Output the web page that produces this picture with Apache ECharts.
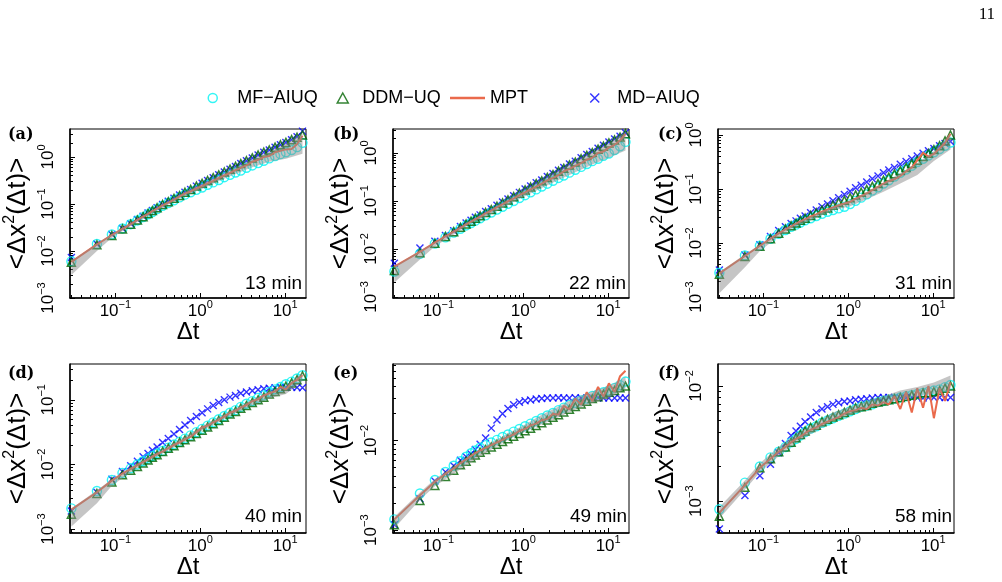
<!DOCTYPE html>
<html>
<head>
<meta charset="utf-8">
<title>MSD comparison</title>
<script src="https://cdn.jsdelivr.net/npm/echarts@6/dist/echarts.min.js"></script>
<style>
  html, body { margin: 0; padding: 0; background: #fff; }
  #chart { width: 1002px; height: 582px; }
</style>
</head>
<body>
<div id="chart"></div>
<script>
// lag times (s) of the estimators
const lagTimes = [0.0303, 0.0606, 0.0909, 0.1212, 0.1515, 0.1818, 0.2121, 0.2424, 0.2727, 0.31,
  0.36, 0.42, 0.49, 0.57, 0.66, 0.77, 0.9, 1.05, 1.22, 1.42, 1.65, 1.92, 2.24, 2.6, 3.0, 3.5,
  4.1, 4.8, 5.6, 6.5, 7.6, 8.8, 10.2, 11.9, 13.8, 16.0];
// lag times where the grey band edges were read
const bandLags = [0.0303, 0.0606, 0.0909, 0.1515, 0.2424, 0.42, 0.66, 1.05, 1.65, 2.6, 4.1, 6.5, 10.2, 16.0];

const panelTags = ['(a)', '(b)', '(c)', '(d)', '(e)', '(f)'];
const panelAges = ['13 min', '22 min', '31 min', '40 min', '49 min', '58 min'];
const decadeTicks = [0.001, 0.01, 0.1, 1, 10];

// (a) 13 min
const mfA = [0.00603, 0.0141, 0.0224, 0.0302, 0.0372, 0.0447, 0.0525, 0.0603, 0.0676, 0.0776, 0.0912, 0.105, 0.120, 0.138, 0.158, 0.178, 0.200, 0.224, 0.257, 0.288, 0.324, 0.372, 0.417, 0.468, 0.513, 0.589, 0.661, 0.741, 0.832, 0.933, 1.05, 1.15, 1.26, 1.41, 1.62, 2.00];
const ddmA = [0.00575, 0.0135, 0.0214, 0.0295, 0.0372, 0.0457, 0.0537, 0.0631, 0.0724, 0.0832, 0.0977, 0.112, 0.132, 0.151, 0.178, 0.204, 0.240, 0.275, 0.316, 0.363, 0.417, 0.479, 0.550, 0.631, 0.724, 0.832, 0.955, 1.10, 1.26, 1.41, 1.62, 1.82, 2.04, 2.34, 2.63, 2.95];
const mptA = [0.00589, 0.0138, 0.0219, 0.0295, 0.0372, 0.0457, 0.0537, 0.0617, 0.0708, 0.0794, 0.0933, 0.107, 0.123, 0.145, 0.166, 0.186, 0.214, 0.240, 0.275, 0.309, 0.355, 0.407, 0.457, 0.525, 0.589, 0.661, 0.794, 0.871, 1.00, 1.05, 1.26, 1.35, 1.45, 1.48, 1.86, 2.82];
const mdA = [0.00724, 0.0141, 0.0224, 0.0302, 0.0380, 0.0468, 0.0550, 0.0646, 0.0724, 0.0832, 0.0977, 0.115, 0.132, 0.155, 0.178, 0.204, 0.240, 0.275, 0.316, 0.363, 0.417, 0.479, 0.550, 0.631, 0.724, 0.832, 0.955, 1.10, 1.26, 1.41, 1.62, 1.82, 2.04, 2.34, 2.69, 3.55];
const loA = [0.00309, 0.0100, 0.0191, 0.0339, 0.0562, 0.0977, 0.151, 0.209, 0.309, 0.437, 0.603, 0.794, 0.912, 1.17];
const hiA = [0.00617, 0.0145, 0.0229, 0.0389, 0.0646, 0.115, 0.182, 0.269, 0.398, 0.603, 0.891, 1.29, 1.91, 3.16];

// (b) 22 min
const mfB = [0.00339, 0.00794, 0.0129, 0.0174, 0.0219, 0.0263, 0.0309, 0.0347, 0.0389, 0.0437, 0.0501, 0.0575, 0.0661, 0.0759, 0.0871, 0.100, 0.115, 0.132, 0.151, 0.174, 0.200, 0.229, 0.263, 0.302, 0.339, 0.389, 0.447, 0.513, 0.589, 0.676, 0.759, 0.871, 0.977, 1.15, 1.38, 1.70];
const ddmB = [0.00355, 0.00832, 0.0132, 0.0182, 0.0229, 0.0282, 0.0331, 0.0380, 0.0437, 0.0490, 0.0575, 0.0661, 0.0776, 0.0912, 0.105, 0.123, 0.145, 0.170, 0.195, 0.229, 0.263, 0.309, 0.355, 0.417, 0.479, 0.562, 0.646, 0.759, 0.891, 1.02, 1.20, 1.38, 1.62, 1.86, 2.14, 2.51];
const mptB = [0.00427, 0.00871, 0.0135, 0.0182, 0.0229, 0.0275, 0.0324, 0.0372, 0.0417, 0.0468, 0.0550, 0.0631, 0.0741, 0.0851, 0.0977, 0.112, 0.132, 0.151, 0.174, 0.200, 0.229, 0.269, 0.302, 0.347, 0.417, 0.468, 0.537, 0.617, 0.724, 0.794, 1.00, 1.07, 1.29, 1.48, 1.82, 2.51];
const mdB = [0.00501, 0.0105, 0.0145, 0.0191, 0.0240, 0.0295, 0.0347, 0.0398, 0.0457, 0.0513, 0.0603, 0.0692, 0.0813, 0.0955, 0.110, 0.129, 0.151, 0.178, 0.204, 0.240, 0.275, 0.324, 0.372, 0.437, 0.501, 0.589, 0.676, 0.794, 0.933, 1.07, 1.26, 1.45, 1.70, 1.95, 2.24, 2.63];
const loB = [0.00200, 0.00603, 0.0112, 0.0200, 0.0339, 0.0537, 0.0832, 0.126, 0.186, 0.275, 0.398, 0.575, 0.794, 1.12];
const hiB = [0.00437, 0.00912, 0.0138, 0.0240, 0.0398, 0.0692, 0.110, 0.174, 0.269, 0.427, 0.676, 1.02, 1.58, 2.75];

// (c) 31 min
const mfC = [0.00282, 0.00589, 0.00891, 0.0120, 0.0148, 0.0174, 0.0200, 0.0219, 0.0240, 0.0263, 0.0288, 0.0316, 0.0347, 0.0380, 0.0407, 0.0437, 0.0468, 0.0525, 0.0603, 0.0692, 0.0794, 0.0933, 0.107, 0.126, 0.145, 0.170, 0.200, 0.229, 0.269, 0.316, 0.363, 0.417, 0.479, 0.550, 0.631, 0.724];
const ddmC = [0.00263, 0.00562, 0.00871, 0.0120, 0.0151, 0.0182, 0.0209, 0.0234, 0.0263, 0.0288, 0.0324, 0.0363, 0.0407, 0.0447, 0.0501, 0.0562, 0.0617, 0.0692, 0.0776, 0.0871, 0.0977, 0.112, 0.126, 0.145, 0.166, 0.191, 0.219, 0.251, 0.295, 0.339, 0.398, 0.457, 0.537, 0.631, 0.776, 1.00];
const mptC = [0.00275, 0.00575, 0.00891, 0.0120, 0.0151, 0.0178, 0.0204, 0.0229, 0.0251, 0.0275, 0.0309, 0.0339, 0.0380, 0.0417, 0.0457, 0.0501, 0.0537, 0.0575, 0.0661, 0.0741, 0.0832, 0.0955, 0.110, 0.126, 0.141, 0.151, 0.174, 0.214, 0.251, 0.339, 0.468, 0.398, 0.447, 0.562, 0.708, 1.05];
const mdC = [0.00316, 0.00603, 0.00933, 0.0132, 0.0170, 0.0200, 0.0229, 0.0257, 0.0288, 0.0316, 0.0363, 0.0407, 0.0468, 0.0525, 0.0603, 0.0692, 0.0794, 0.0912, 0.105, 0.117, 0.135, 0.155, 0.174, 0.200, 0.224, 0.251, 0.288, 0.324, 0.363, 0.407, 0.457, 0.513, 0.562, 0.631, 0.692, 0.759];
const loC = [0.00117, 0.00355, 0.00708, 0.0132, 0.0204, 0.0295, 0.0398, 0.0479, 0.0646, 0.0891, 0.126, 0.182, 0.331, 0.537];
const hiC = [0.00288, 0.00617, 0.00933, 0.0158, 0.0240, 0.0347, 0.0479, 0.0617, 0.0871, 0.132, 0.195, 0.302, 0.501, 1.07];

// (d) 40 min
const mfD = [0.00209, 0.00389, 0.00575, 0.00741, 0.00871, 0.0100, 0.0112, 0.0123, 0.0135, 0.0148, 0.0162, 0.0182, 0.0204, 0.0224, 0.0251, 0.0282, 0.0316, 0.0355, 0.0398, 0.0447, 0.0501, 0.0562, 0.0631, 0.0692, 0.0776, 0.0871, 0.0955, 0.107, 0.117, 0.132, 0.145, 0.158, 0.174, 0.191, 0.214, 0.240];
const ddmD = [0.00170, 0.00355, 0.00537, 0.00692, 0.00813, 0.00933, 0.0105, 0.0117, 0.0129, 0.0141, 0.0158, 0.0178, 0.0195, 0.0219, 0.0240, 0.0269, 0.0302, 0.0339, 0.0380, 0.0427, 0.0479, 0.0537, 0.0603, 0.0661, 0.0741, 0.0813, 0.0912, 0.100, 0.110, 0.123, 0.135, 0.148, 0.162, 0.182, 0.204, 0.234];
const mptD = [0.00200, 0.00372, 0.00562, 0.00724, 0.00851, 0.00977, 0.0110, 0.0120, 0.0132, 0.0145, 0.0158, 0.0178, 0.0200, 0.0219, 0.0245, 0.0269, 0.0316, 0.0372, 0.0398, 0.0447, 0.0490, 0.0550, 0.0631, 0.0676, 0.0759, 0.0832, 0.0955, 0.102, 0.117, 0.126, 0.135, 0.158, 0.145, 0.182, 0.204, 0.240];
const mdD = [0.00191, 0.00372, 0.00589, 0.00776, 0.00955, 0.0112, 0.0132, 0.0148, 0.0166, 0.0186, 0.0219, 0.0251, 0.0295, 0.0347, 0.0407, 0.0479, 0.0550, 0.0631, 0.0724, 0.0813, 0.0912, 0.100, 0.110, 0.117, 0.126, 0.132, 0.138, 0.143, 0.148, 0.151, 0.153, 0.154, 0.155, 0.156, 0.155, 0.154];
const loD = [0.00110, 0.00251, 0.00468, 0.00759, 0.0112, 0.0166, 0.0229, 0.0331, 0.0457, 0.0617, 0.0813, 0.105, 0.123, 0.195];
const hiD = [0.00209, 0.00398, 0.00589, 0.00891, 0.0129, 0.0191, 0.0269, 0.0389, 0.0537, 0.0741, 0.100, 0.135, 0.166, 0.263];

// (e) 49 min
const mfE = [0.00132, 0.00257, 0.00363, 0.00447, 0.00525, 0.00589, 0.00661, 0.00724, 0.00776, 0.00832, 0.00891, 0.00955, 0.0102, 0.0110, 0.0117, 0.0126, 0.0135, 0.0145, 0.0155, 0.0166, 0.0178, 0.0191, 0.0204, 0.0219, 0.0234, 0.0251, 0.0263, 0.0282, 0.0295, 0.0316, 0.0331, 0.0347, 0.0363, 0.0389, 0.0417, 0.0457];
const ddmE = [0.00115, 0.00214, 0.00316, 0.00398, 0.00468, 0.00537, 0.00589, 0.00646, 0.00692, 0.00741, 0.00794, 0.00851, 0.00912, 0.00977, 0.0105, 0.0112, 0.0120, 0.0129, 0.0138, 0.0148, 0.0158, 0.0170, 0.0182, 0.0195, 0.0209, 0.0224, 0.0240, 0.0257, 0.0275, 0.0295, 0.0309, 0.0331, 0.0347, 0.0363, 0.0389, 0.0407];
const mptE = [0.00132, 0.00245, 0.00347, 0.00427, 0.00490, 0.00562, 0.00617, 0.00676, 0.00724, 0.00776, 0.00832, 0.00891, 0.00955, 0.0102, 0.0110, 0.0117, 0.0129, 0.0135, 0.0148, 0.0155, 0.0170, 0.0174, 0.0200, 0.0195, 0.0245, 0.0224, 0.0295, 0.0251, 0.0347, 0.0275, 0.0398, 0.0309, 0.0437, 0.0347, 0.0525, 0.0603];
const mdE = [0.00115, 0.00224, 0.00355, 0.00447, 0.00525, 0.00603, 0.00661, 0.00708, 0.00794, 0.00912, 0.0107, 0.0138, 0.0170, 0.0200, 0.0229, 0.0251, 0.0269, 0.0279, 0.0285, 0.0292, 0.0295, 0.0299, 0.0299, 0.0302, 0.0299, 0.0299, 0.0302, 0.0299, 0.0299, 0.0299, 0.0302, 0.0299, 0.0299, 0.0299, 0.0299, 0.0299];
const loE = [0.00105, 0.00219, 0.00309, 0.00427, 0.00575, 0.00794, 0.0102, 0.0126, 0.0151, 0.0182, 0.0224, 0.0263, 0.0302, 0.0380];
const hiE = [0.00141, 0.00263, 0.00372, 0.00513, 0.00692, 0.00955, 0.0120, 0.0151, 0.0195, 0.0240, 0.0302, 0.0355, 0.0407, 0.0513];

// (f) 58 min
const mfF = [0.000851, 0.00145, 0.00200, 0.00240, 0.00269, 0.00295, 0.00324, 0.00347, 0.00372, 0.00398, 0.00427, 0.00447, 0.00479, 0.00501, 0.00525, 0.00550, 0.00575, 0.00603, 0.00631, 0.00661, 0.00676, 0.00692, 0.00724, 0.00741, 0.00759, 0.00776, 0.00794, 0.00813, 0.00832, 0.00851, 0.00871, 0.00891, 0.00912, 0.00933, 0.00977, 0.0102];
const ddmF = [0.000741, 0.00132, 0.00195, 0.00234, 0.00269, 0.00295, 0.00324, 0.00355, 0.00380, 0.00407, 0.00437, 0.00457, 0.00490, 0.00513, 0.00537, 0.00562, 0.00589, 0.00617, 0.00646, 0.00661, 0.00676, 0.00708, 0.00724, 0.00741, 0.00759, 0.00776, 0.00794, 0.00813, 0.00832, 0.00851, 0.00871, 0.00871, 0.00891, 0.00912, 0.00955, 0.0100];
const mptF = [0.000794, 0.00138, 0.00195, 0.00234, 0.00269, 0.00295, 0.00324, 0.00347, 0.00363, 0.00389, 0.00417, 0.00437, 0.00468, 0.00490, 0.00513, 0.00537, 0.00575, 0.00603, 0.00617, 0.00646, 0.00631, 0.00692, 0.00676, 0.00724, 0.00692, 0.00813, 0.00631, 0.00891, 0.00589, 0.00955, 0.00646, 0.0100, 0.00525, 0.00955, 0.00741, 0.0107];
const mdF = [0.000575, 0.00112, 0.00166, 0.00209, 0.00263, 0.00316, 0.00372, 0.00407, 0.00447, 0.00490, 0.00537, 0.00589, 0.00631, 0.00661, 0.00692, 0.00716, 0.00733, 0.00741, 0.00759, 0.00767, 0.00776, 0.00785, 0.00794, 0.00794, 0.00794, 0.00794, 0.00785, 0.00794, 0.00794, 0.00794, 0.00785, 0.00794, 0.00794, 0.00794, 0.00794, 0.00794];
const loF = [0.000708, 0.00126, 0.00178, 0.00245, 0.00324, 0.00407, 0.00501, 0.00562, 0.00631, 0.00692, 0.00759, 0.00813, 0.00851, 0.00912];
const hiF = [0.000891, 0.00151, 0.00214, 0.00295, 0.00380, 0.00479, 0.00589, 0.00661, 0.00741, 0.00813, 0.00912, 0.00977, 0.0107, 0.0123];

const FONT = '"Liberation Sans", Arial, Helvetica, sans-serif';
const C_MF = '#00F2F2', C_DDM = '#006400', C_MPT = '#EA6A4C', C_MD = '#0000FF';
const X_PATH = 'path://M0,0L10,10M10,0L0,10';
const X_MIN = 0.0292, X_MAX = 17.6;
const W = 236, H = 169;

const panels = [
  { mf: mfA, ddm: ddmA, mpt: mptA, md: mdA, lo: loA, hi: hiA, left: 70, top: 129, yMin: 0.001, yMax: 3.94, tag: [8, 127], age: [302, 274] },
  { mf: mfB, ddm: ddmB, mpt: mptB, md: mdB, lo: loB, hi: hiB, left: 393, top: 129, yMin: 0.00095, yMax: 3.16, tag: [333, 127], age: [626, 274] },
  { mf: mfC, ddm: ddmC, mpt: mptC, md: mdC, lo: loC, hi: hiC, left: 718, top: 129, yMin: 0.00096, yMax: 1.29, tag: [658, 127], age: [952, 274] },
  { mf: mfD, ddm: ddmD, mpt: mptD, md: mdD, lo: loD, hi: hiD, left: 70, top: 364, yMin: 0.00087, yMax: 0.358, tag: [8, 366], age: [302, 507] },
  { mf: mfE, ddm: ddmE, mpt: mptE, md: mdE, lo: loE, hi: hiE, left: 393, top: 364, yMin: 0.00093, yMax: 0.0718, tag: [333, 366], age: [627, 507] },
  { mf: mfF, ddm: ddmF, mpt: mptF, md: mdF, lo: loF, hi: hiF, left: 718, top: 364, yMin: 0.00053, yMax: 0.0155, tag: [658, 366], age: [952, 507] }
];

function powLabel(v) {
  const e = Math.round(Math.log10(v));
  return '{b|10}{s|' + String(e).replace('-', '\u2212') + '}';
}
const supRich = {
  b: { fontFamily: FONT, fontSize: 17, color: '#000', lineHeight: 24 },
  s: { fontFamily: FONT, fontSize: 11, color: '#000', lineHeight: 12, verticalAlign: 'top' }
};
function inside(vals, lo, hi) {
  return vals.filter(v => v >= lo * 0.999 && v <= hi * 1.001);
}
function minorTicks(lo, hi) {
  const out = [];
  for (let d = -4; d <= 1; d++) {
    for (let m = 2; m <= 9; m++) {
      const v = m * Math.pow(10, d);
      if (v > lo && v < hi) out.push(v);
    }
  }
  return out;
}
const pairs = arr => lagTimes.map((x, k) => [x, arr[k]]);

const grid = [], xAxis = [], yAxis = [], series = [];
panels.forEach((p, i) => {
  grid.push({ left: p.left, top: p.top, width: W, height: H, show: true, borderColor: '#000', borderWidth: 1 });
  const xMajor = inside(decadeTicks, X_MIN, X_MAX);
  const yMajor = inside(decadeTicks, p.yMin, p.yMax);
  xAxis.push({
    gridIndex: i, type: 'log', min: X_MIN, max: X_MAX, position: 'bottom',
    axisLine: { show: true, lineStyle: { color: '#000', width: 1.5 } },
    axisTick: { show: true, inside: true, length: 5, customValues: xMajor, lineStyle: { color: '#000', width: 1 } },
    axisLabel: { customValues: xMajor, formatter: powLabel, rich: supRich, margin: 1 },
    splitLine: { show: false },
    name: '\u0394t', nameLocation: 'middle', nameGap: 21,
    nameTextStyle: { fontFamily: FONT, fontSize: 24, color: '#000' }
  });
  xAxis.push({
    gridIndex: i, type: 'log', min: X_MIN, max: X_MAX, position: 'bottom',
    axisLine: { show: false },
    axisTick: { show: true, inside: true, length: 3, customValues: minorTicks(X_MIN, X_MAX), lineStyle: { color: '#000', width: 1 } },
    axisLabel: { show: false }, splitLine: { show: false }
  });
  yAxis.push({
    gridIndex: i, type: 'log', min: p.yMin, max: p.yMax, position: 'left',
    axisLine: { show: true, lineStyle: { color: '#000', width: 1.5 } },
    axisTick: { show: true, inside: true, length: 5, customValues: yMajor, lineStyle: { color: '#000', width: 1 } },
    axisLabel: { customValues: yMajor, formatter: powLabel, rich: supRich, rotate: 90, margin: 10 },
    splitLine: { show: false },
    name: '<\u0394x{s|2}(\u0394t)>', nameLocation: 'middle', nameGap: 30, nameRotate: 90,
    nameTextStyle: {
      fontFamily: FONT, fontSize: 26, color: '#000', lineHeight: 34,
      rich: { s: { fontFamily: FONT, fontSize: 16, color: '#000', lineHeight: 16, verticalAlign: 'top' } }
    }
  });
  yAxis.push({
    gridIndex: i, type: 'log', min: p.yMin, max: p.yMax, position: 'left',
    axisLine: { show: false },
    axisTick: { show: true, inside: true, length: 3, customValues: minorTicks(p.yMin, p.yMax), lineStyle: { color: '#000', width: 1 } },
    axisLabel: { show: false }, splitLine: { show: false }
  });
  const ax = { xAxisIndex: 2 * i, yAxisIndex: 2 * i };
  // blue crosses sit underneath, then circles, triangles, the MPT line and the band
  series.push(Object.assign({
    name: 'MD\u2212AIUQ', type: 'scatter', symbol: X_PATH, symbolSize: 7, symbolKeepAspect: true, data: pairs(p.md),
    itemStyle: { color: 'transparent', borderColor: C_MD, borderWidth: 1.4 }
  }, ax));
  series.push(Object.assign({
    name: 'MF\u2212AIUQ', type: 'scatter', symbol: 'circle', symbolSize: 9, data: pairs(p.mf),
    itemStyle: { color: 'transparent', borderColor: C_MF, borderWidth: 1.4 }
  }, ax));
  series.push(Object.assign({
    name: 'DDM\u2212UQ', type: 'scatter', symbol: 'triangle', symbolSize: 8, data: pairs(p.ddm),
    itemStyle: { color: 'transparent', borderColor: C_DDM, borderWidth: 1.5 }
  }, ax));
  series.push(Object.assign({
    name: 'MPT', type: 'line', symbol: 'none', data: pairs(p.mpt),
    lineStyle: { color: C_MPT, width: 2 }, itemStyle: { color: C_MPT }
  }, ax));
  // grey uncertainty band, drawn on top and half transparent
  series.push(Object.assign({
    name: 'band', type: 'custom', z: 5, silent: true,
    data: bandLags.map((x, k) => [x, p.lo[k], p.hi[k]]),
    renderItem: function (params, api) {
      if (params.dataIndex !== 0) return null;
      const upper = bandLags.map((x, k) => api.coord([x, p.hi[k]]));
      const lower = bandLags.map((x, k) => api.coord([x, p.lo[k]])).reverse();
      return { type: 'polygon', shape: { points: upper.concat(lower) }, style: { fill: 'rgba(140,140,140,0.5)' } };
    }
  }, ax));
});

// one legend per entry so each can sit where the reference puts it
function legendEntry(left, size, pad, item) {
  return {
    left: left, top: 89, padding: 0, itemWidth: size[0], itemHeight: size[1], selectedMode: false,
    textStyle: { fontFamily: FONT, fontSize: 18, color: '#000', rich: { p: { width: pad } } },
    formatter: name => (pad > 0 ? '{p| }' : '') + name,
    data: [item]
  };
}
const legend = [
  legendEntry(207.5, [9, 9], 15, { name: 'MF\u2212AIUQ', icon: 'circle', itemStyle: { color: 'transparent', borderColor: C_MF, borderWidth: 1.5 } }),
  legendEntry(336.5, [11, 10], 9, { name: 'DDM\u2212UQ', icon: 'triangle', itemStyle: { color: 'transparent', borderColor: C_DDM, borderWidth: 1.5 } }),
  legendEntry(450, [35, 2.5], 0, { name: 'MPT', icon: 'rect', itemStyle: { color: C_MPT, borderWidth: 0 } }),
  legendEntry(589.5, [9, 9], 13, { name: 'MD\u2212AIUQ', icon: X_PATH, itemStyle: { color: 'transparent', borderColor: C_MD, borderWidth: 1.5 } })
];

const graphic = [];
panels.forEach((p, i) => {
  graphic.push({ type: 'text', x: p.tag[0], y: p.tag[1],
    style: { text: panelTags[i], font: 'bold 16px "DejaVu Serif", serif', fill: '#000', verticalAlign: 'top' } });
  graphic.push({ type: 'text', x: p.age[0], y: p.age[1],
    style: { text: panelAges[i], font: '19px ' + FONT, fill: '#000', align: 'right', verticalAlign: 'top' } });
});
graphic.push({ type: 'text', x: 995, y: 6,
  style: { text: '11', font: '17px "Liberation Serif", serif', fill: '#000', align: 'right', verticalAlign: 'top' } });

const chart = echarts.init(document.getElementById('chart'), null, { renderer: 'canvas' });
chart.setOption({
  animation: false,
  backgroundColor: '#fff',
  legend: legend,
  grid: grid,
  xAxis: xAxis,
  yAxis: yAxis,
  series: series,
  graphic: graphic
});
</script>
</body>
</html>
